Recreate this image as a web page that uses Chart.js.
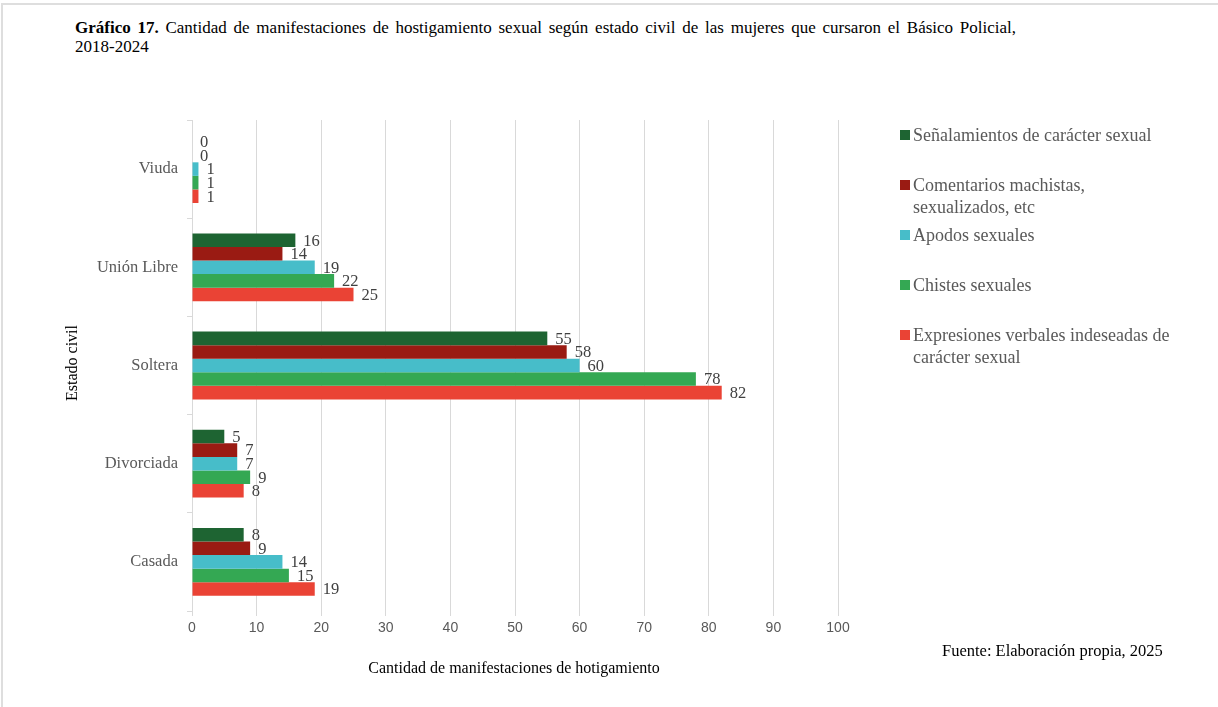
<!DOCTYPE html>
<html lang="es">
<head>
<meta charset="UTF-8">
<title>Gráfico 17</title>
<script src="https://cdn.jsdelivr.net/npm/chart.js"></script>
<style>
    html, body { margin: 0; padding: 0; background: #fff; }
    body { width: 1218px; height: 707px; position: relative; overflow: hidden; font-family: "Liberation Serif", "Times New Roman", serif; }
    #frame { position: absolute; left: 1px; top: 3px; right: 0; bottom: 0; border-top: 2px solid #dedede; border-left: 2px solid #dedede; }
    #chartWrap { position: absolute; left: 0; top: 0; width: 1218px; height: 707px; }
    #title { position: absolute; left: 75px; top: 18px; font-size: 17px; line-height: 19px; word-spacing: 2.5px; color: #000; white-space: nowrap; }
    #title b { font-weight: bold; }
    #ytitle { position: absolute; left: 72px; top: 363px; font-size: 16px; color: #000; transform: translate(-50%, -50%) rotate(-90deg); white-space: nowrap; }
    #xtitle { position: absolute; left: 514px; top: 659px; font-size: 16px; color: #000; transform: translateX(-50%); white-space: nowrap; }
    #source { position: absolute; left: 942px; top: 641px; font-size: 16.5px; color: #000; white-space: nowrap; }
    #legend { position: absolute; left: 900px; top: 0; }
    .item { position: absolute; left: 0; font-size: 18px; line-height: 22px; color: #595959; padding-left: 13px; }
    .item i { position: absolute; left: 0; top: 6px; width: 10px; height: 10px; }
</style>
</head>
<body>
<div id="frame"></div>
<div id="title"><b>Gráfico 17.</b> Cantidad de manifestaciones de hostigamiento sexual según estado civil de las mujeres que cursaron el Básico Policial,<br>2018-2024</div>
<div id="chartWrap"><canvas id="chart" width="1218" height="707"></canvas></div>
<div id="ytitle">Estado civil</div>
<div id="xtitle">Cantidad de manifestaciones de hotigamiento</div>
<div id="source">Fuente: Elaboración propia, 2025</div>
<div id="legend"></div>

<script>
    const categories = ['Viuda', 'Unión Libre', 'Soltera', 'Divorciada', 'Casada'];

    const seriesNames = [
        'Señalamientos de carácter sexual',
        'Comentarios machistas, sexualizados, etc',
        'Apodos sexuales',
        'Chistes sexuales',
        'Expresiones verbales indeseadas de carácter sexual'
    ];
    const senalamientos = [0, 16, 55, 5, 8];
    const comentarios = [0, 14, 58, 7, 9];
    const apodos = [1, 19, 60, 7, 14];
    const chistes = [1, 22, 78, 9, 15];
    const expresiones = [1, 25, 82, 8, 19];

    const xTicks = [0, 10, 20, 30, 40, 50, 60, 70, 80, 90, 100];

    const colors = ['#1E6432', '#9A1B13', '#47BDC9', '#34A853', '#EA4335'];
    const legendTops = [124, 174, 224, 274, 324];
    const legendWidths = [300, 210, 300, 300, 265];

    const series = [senalamientos, comentarios, apodos, chistes, expresiones];

    // legend on the right, built by hand so long names can wrap
    const legend = document.getElementById('legend');
    seriesNames.forEach((name, i) => {
        const div = document.createElement('div');
        div.className = 'item';
        div.style.top = legendTops[i] + 'px';
        div.style.width = legendWidths[i] + 'px';
        div.innerHTML = '<i style="background:' + colors[i] + '"></i>' + name;
        legend.appendChild(div);
    });

    // value labels just past the end of every bar
    const barLabels = {
        id: 'barLabels',
        afterDatasetsDraw(chart) {
            const ctx = chart.ctx;
            ctx.save();
            ctx.font = '16.5px "Liberation Serif", serif';
            ctx.fillStyle = '#404040';
            ctx.textAlign = 'left';
            ctx.textBaseline = 'middle';
            chart.data.datasets.forEach((ds, di) => {
                chart.getDatasetMeta(di).data.forEach((bar, i) => {
                    ctx.fillText(ds.data[i], bar.x + 8, bar.y + 1);
                });
            });
            ctx.restore();
        }
    };

    new Chart(document.getElementById('chart'), {
        type: 'bar',
        data: {
            labels: categories,
            datasets: series.map((data, i) => ({
                label: seriesNames[i],
                data: data,
                backgroundColor: colors[i],
                borderWidth: 0,
                categoryPercentage: 0.69,
                barPercentage: 1
            }))
        },
        options: {
            indexAxis: 'y',
            responsive: false,
            animation: false,
            layout: { padding: { left: 0, right: 380, top: 120, bottom: 0 } },
            plugins: {
                legend: { display: false },
                tooltip: { enabled: false }
            },
            scales: {
                x: {
                    min: 0,
                    max: 100,
                    afterBuildTicks(scale) {
                        scale.ticks = xTicks.map(v => ({ value: v }));
                    },
                    afterFit(scale) { scale.height = 96; },
                    border: { display: false },
                    grid: { color: '#d9d9d9', lineWidth: 1, tickLength: 5 },
                    ticks: {
                        color: '#595959',
                        padding: 4,
                        font: { family: '"Liberation Sans", Arial, sans-serif', size: 14 }
                    }
                },
                y: {
                    afterFit(scale) { scale.width = 192; },
                    border: { display: true, color: '#d9d9d9' },
                    grid: { offset: true, drawOnChartArea: false, color: '#d9d9d9', tickLength: 5 },
                    ticks: {
                        color: '#595959',
                        padding: 9,
                        font: { family: '"Liberation Serif", serif', size: 16.5 }
                    }
                }
            }
        },
        plugins: [barLabels]
    });
</script>
</body>
</html>
